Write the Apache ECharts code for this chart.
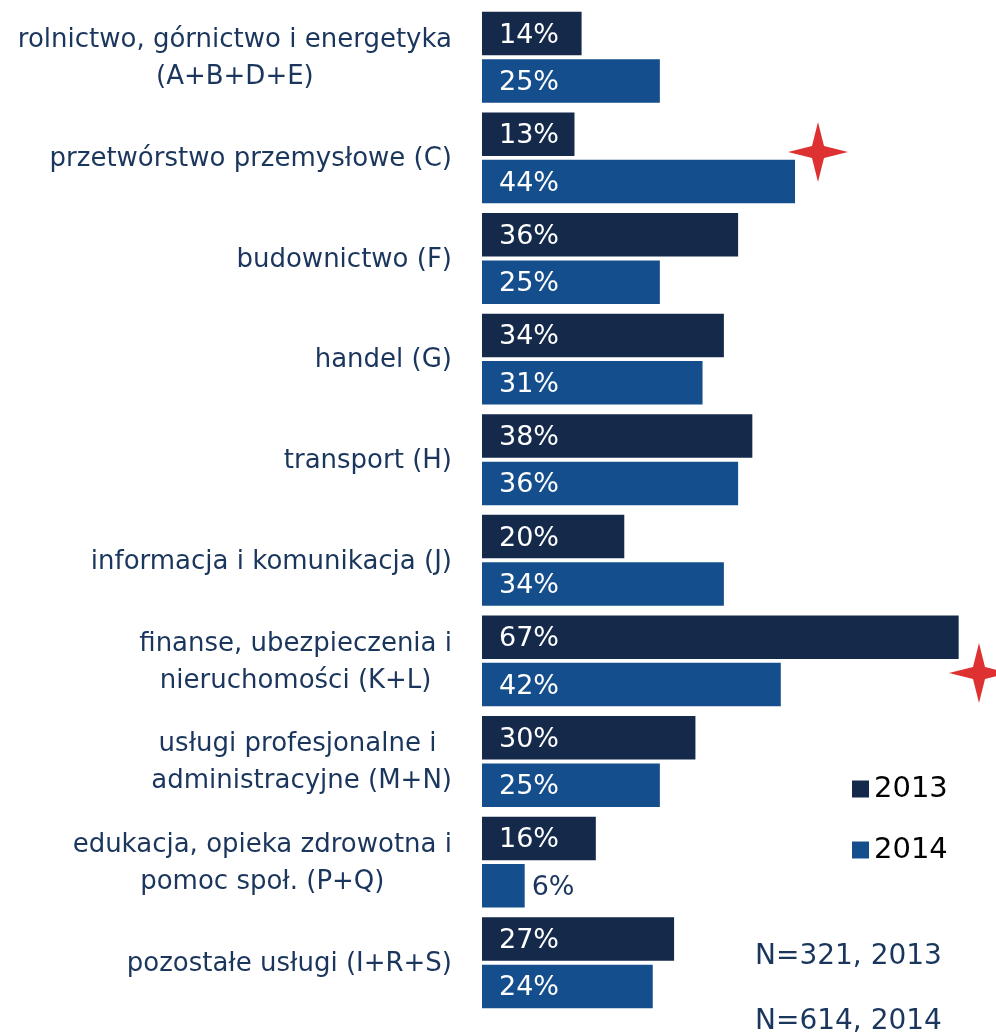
<!DOCTYPE html>
<html>
<head>
<meta charset="utf-8">
<script src="https://cdn.jsdelivr.net/npm/echarts@6/dist/echarts.min.js"></script>
<style>
  html, body { margin: 0; padding: 0; background: #fff; }
  #chart { width: 996px; height: 1034px; }
</style>
</head>
<body>
<div id="chart"></div>
<script>
// Sector categories (top to bottom)
const categories = [
  'rolnictwo, górnictwo i energetyka\n(A+B+D+E)',
  'przetwórstwo przemysłowe (C)',
  'budownictwo (F)',
  'handel (G)',
  'transport (H)',
  'informacja i komunikacja (J)',
  'finanse, ubezpieczenia i\nnieruchomości (K+L)',
  'usługi profesjonalne i \nadministracyjne (M+N)',
  'edukacja, opieka zdrowotna i\npomoc społ. (P+Q)',
  'pozostałe usługi (I+R+S)'
];
// Shares in percent
const values2013 = [14, 13, 36, 34, 38, 20, 67, 30, 16, 27];
const values2014 = [25, 44, 25, 31, 36, 34, 42, 25, 6, 24];
const seriesNames = ['2013', '2014'];
const sampleNotes = ['N=321, 2013', 'N=614, 2014'];

const FONT = 'DejaVu Sans';
const TEXT = '#1b365d';
const COLORS = ['#15294b', '#154e8c'];

// Bars too short for an inside label get their label outside, in dark text
function toItems(vals) {
  return vals.map(v => v < 10
    ? { value: v, label: { position: 'right', distance: 7, color: TEXT } }
    : v);
}

// Multi-line category labels: block right-aligned, lines centred within it
function catLabel(text) {
  return text.split('\n').map(l => '{c|' + l + '}').join('\n');
}

const star = [[0, -30], [6, -6], [30, 0], [6, 6], [0, 30], [-6, 6], [-30, 0], [-6, -6]];

const chart = echarts.init(document.getElementById('chart'), null, { renderer: 'canvas' });
chart.setOption({
  animation: false,
  backgroundColor: '#fff',
  grid: { left: 482, right: 16, top: 7, bottom: 21, containLabel: false },
  xAxis: { type: 'value', min: 0, max: 70, show: false },
  yAxis: {
    type: 'category',
    inverse: true,
    data: categories,
    axisLine: { show: false },
    axisTick: { show: false },
    axisLabel: {
      margin: 30,
      align: 'right',
      formatter: catLabel,
      rich: { c: { align: 'center', fontFamily: FONT, fontSize: 26, color: TEXT, lineHeight: 37, padding: [3, 0, 0, 0] } }
    }
  },
  legend: {
    data: seriesNames,
    orient: 'vertical',
    left: 852,
    top: 772,
    padding: 0,
    icon: 'rect',
    itemWidth: 17,
    itemHeight: 17,
    itemGap: 27,
    textStyle: { fontFamily: FONT, fontSize: 29, color: '#000', lineHeight: 34 }
  },
  series: [
    { name: seriesNames[0], data: values2013 },
    { name: seriesNames[1], data: values2014 }
  ].map((s, i) => ({
    type: 'bar',
    name: s.name,
    data: toItems(s.data),
    barWidth: 43.5,
    barGap: '9%',
    itemStyle: { color: COLORS[i] },
    label: {
      show: true,
      position: 'insideLeft',
      distance: 17,
      offset: [0, 2],
      formatter: '{c}%',
      fontFamily: FONT,
      fontSize: 27,
      color: '#fff'
    }
  })),
  graphic: [
    { type: 'polygon', x: 818, y: 152, shape: { points: star }, style: { fill: '#de3131' } },
    { type: 'polygon', x: 979, y: 673, shape: { points: star }, style: { fill: '#de3131' } },
    { type: 'text', left: 755, top: 943, style: { text: sampleNotes[0], font: '28px "DejaVu Sans"', fill: TEXT } },
    { type: 'text', left: 755, top: 1008, style: { text: sampleNotes[1], font: '28px "DejaVu Sans"', fill: TEXT } }
  ]
});
</script>
</body>
</html>
